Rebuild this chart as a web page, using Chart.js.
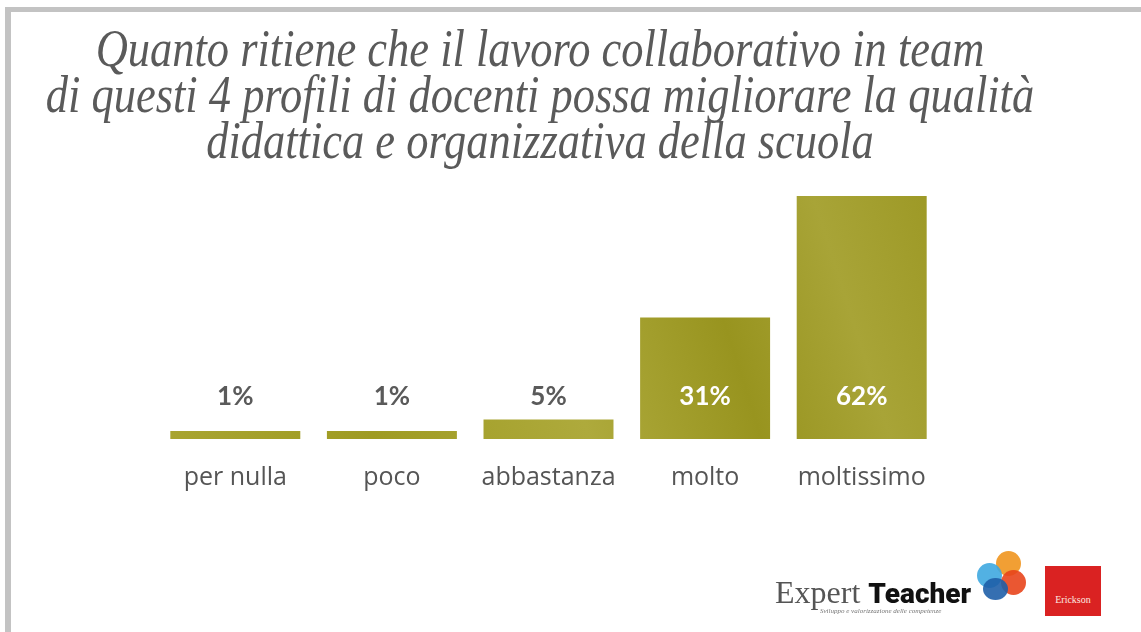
<!DOCTYPE html>
<html>
<head>
<meta charset="utf-8">
<script src="https://cdn.jsdelivr.net/npm/chart.js@4"></script>
<style>
  html, body { margin: 0; padding: 0; background: #fff; }
  body { width: 1141px; height: 632px; position: relative; overflow: hidden; }
  .frame {
    position: absolute; left: 5px; top: 7px; width: 1140px; height: 630px;
    border-top: 5px solid #c3c3c3; border-left: 6px solid #c3c3c3;
  }
  #chart { position: absolute; left: 0; top: 0; }
  .title {
    position: absolute; left: -160px; top: 26px; width: 1400px;
    text-align: center; color: #5a5a5a; white-space: nowrap;
    font-family: "Liberation Serif", serif; font-style: italic;
    font-size: 52px; line-height: 46px;
    transform: scaleX(0.855); transform-origin: 700px 0;
  }
  .logo-et { position: absolute; left: 775px; top: 574px; white-space: nowrap; }
  .logo-et .e { font-family: "Liberation Serif", serif; font-size: 32px; color: #555; }
  .logo-et .t { font-family: "Roboto", sans-serif; font-weight: 900; font-size: 28px; color: #111; }
  .logo-et .s { position: absolute; left: 45px; top: 33px; font-family: "Liberation Serif", serif;
    font-style: italic; font-size: 7px; color: #777; }
  .dot { position: absolute; border-radius: 50%; opacity: 0.9; }
  .erickson {
    position: absolute; left: 1045px; top: 566px; width: 56px; height: 50px;
    background: #da2222; color: #fbe9e0; font-family: "Liberation Serif", serif;
    font-size: 10px; text-align: center; line-height: 12px; padding-top: 28px; box-sizing: border-box;
  }
</style>
</head>
<body>
<div class="frame"></div>
<canvas id="chart" width="1141" height="632"></canvas>
<div class="title">Quanto ritiene che il lavoro collaborativo in team<br>di questi 4 profili di docenti possa migliorare la qualità<br>didattica e organizzativa della scuola</div>
<div class="logo-et"><span class="e">Expert </span><span class="t">Teacher</span><span class="s">Sviluppo e valorizzazione delle competenze</span></div>
<div class="dot" style="left:996px;top:551px;width:25px;height:25px;background:#f0951e"></div>
<div class="dot" style="left:977px;top:563px;width:25px;height:25px;background:#3fa8e0"></div>
<div class="dot" style="left:1001px;top:570px;width:25px;height:25px;background:#e8451c"></div>
<div class="dot" style="left:983px;top:578px;width:25px;height:22px;background:#1f5fa8"></div>
<div class="erickson">Erickson</div>
<script>
const categories = ['per nulla', 'poco', 'abbastanza', 'molto', 'moltissimo'];
const percentages = [1, 1, 5, 31, 62];
const labelInside = [false, false, false, true, true];

window.addEventListener('DOMContentLoaded', () => {
  const ctx = document.getElementById('chart').getContext('2d');

  // mottled olive look for the bars
  const olive = ctx.createLinearGradient(160, 440, 940, 190);
  olive.addColorStop(0, '#a9a531');
  olive.addColorStop(0.25, '#9f9b22');
  olive.addColorStop(0.5, '#aeaa3c');
  olive.addColorStop(0.7, '#98941f');
  olive.addColorStop(0.85, '#a8a437');
  olive.addColorStop(1, '#9c9824');

  const valueLabels = {
    id: 'valueLabels',
    afterDatasetsDraw(chart) {
      const c = chart.ctx;
      const meta = chart.getDatasetMeta(0);
      const base = chart.scales.y.getPixelForValue(0);
      c.save();
      c.font = 'bold 26px Lato, sans-serif';
      c.textAlign = 'center';
      c.textBaseline = 'middle';
      meta.data.forEach((bar, i) => {
        c.fillStyle = labelInside[i] ? '#ffffff' : '#5a5a5a';
        c.fillText(percentages[i] + '%', bar.x, base - 42);
      });
      c.restore();
    }
  };

  new Chart(ctx, {
    type: 'bar',
    data: {
      labels: categories,
      datasets: [{
        data: percentages,
        backgroundColor: olive,
        borderWidth: 0,
        barPercentage: 0.83,
        categoryPercentage: 1,
        minBarLength: 8
      }]
    },
    options: {
      responsive: false,
      animation: false,
      layout: { padding: { left: 157, right: 201, top: 196, bottom: 115 } },
      plugins: { legend: { display: false }, tooltip: { enabled: false } },
      scales: {
        x: {
          grid: { display: false, drawTicks: false },
          border: { display: false },
          ticks: { color: '#555', padding: 24, font: { family: 'Open Sans', size: 25 } }
        },
        y: {
          display: false,
          min: 0,
          max: 62
        }
      }
    },
    plugins: [valueLabels]
  });
});
</script>
</body>
</html>
